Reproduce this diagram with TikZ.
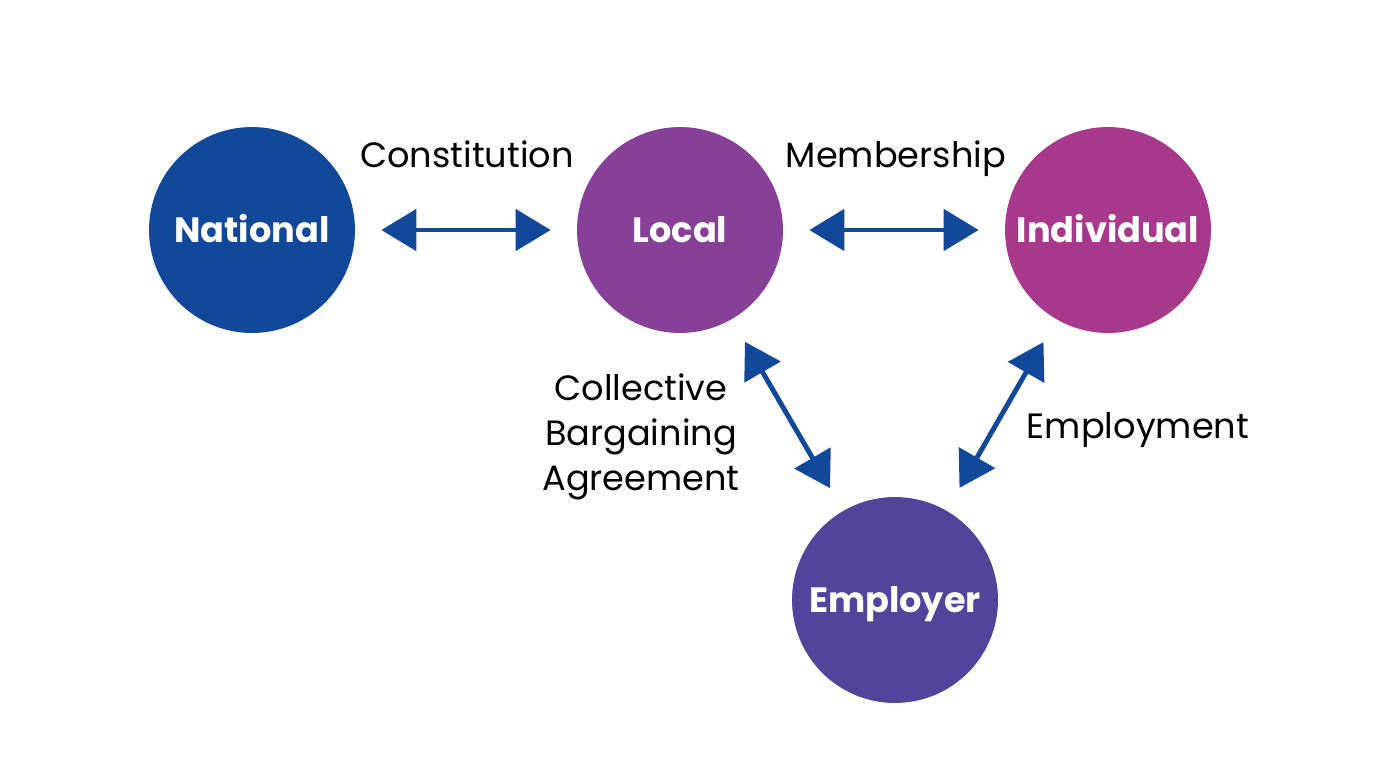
\documentclass[tikz,border=0pt]{standalone}
\usepackage{fontspec}
\setmainfont{Poppins}
\usetikzlibrary{arrows.meta,positioning}
\definecolor{natblue}{RGB}{18,72,154}
\definecolor{locpurple}{RGB}{134,64,152}
\definecolor{indmagenta}{RGB}{168,56,140}
\definecolor{empviolet}{RGB}{82,68,154}
\begin{document}
\begin{tikzpicture}[x=0.02cm,y=-0.02cm,
    party/.style={circle,minimum size=4.12cm,inner sep=0pt,text=white,
        text height=0.48cm,text depth=0pt,font=\fontsize{20}{24}\selectfont\bfseries},
    link/.style={draw=natblue,line width=2.8pt,
        {Triangle[length=0.7cm,width=0.82cm]}-{Triangle[length=0.7cm,width=0.82cm]},
        shorten <=0.52cm,shorten >=0.52cm},
    lbl/.style={anchor=base,font=\fontsize{20}{24}\selectfont}]
\useasboundingbox (0,0) rectangle (1400,775);
% Circles
\node[party,fill=natblue] (national) at (252,230) {National};
\node[party,fill=locpurple] (local) at (680,230) {Local};
\node[party,fill=indmagenta] (individual) at (1108,230) {Individual};
\node[party,fill=empviolet] (employer) at (895,600) {Employer};
% Arrows
\draw[link] (national) -- (local);
\draw[link] (local) -- (individual);
\draw[link] (local) -- (employer);
\draw[link] (individual) -- (employer);
% Labels
\node[lbl] (constitution) at (467,167) {Constitution};
\node[lbl] (membership) at (896,167) {Membership};
\node[lbl] (cba1) at (641,400) {Collective};
\node[lbl] (cba2) at (641,445) {Bargaining};
\node[lbl] (cba3) at (641,490) {Agreement};
\node[lbl] (employment) at (1138,438) {Employment};
\end{tikzpicture}
\end{document}
